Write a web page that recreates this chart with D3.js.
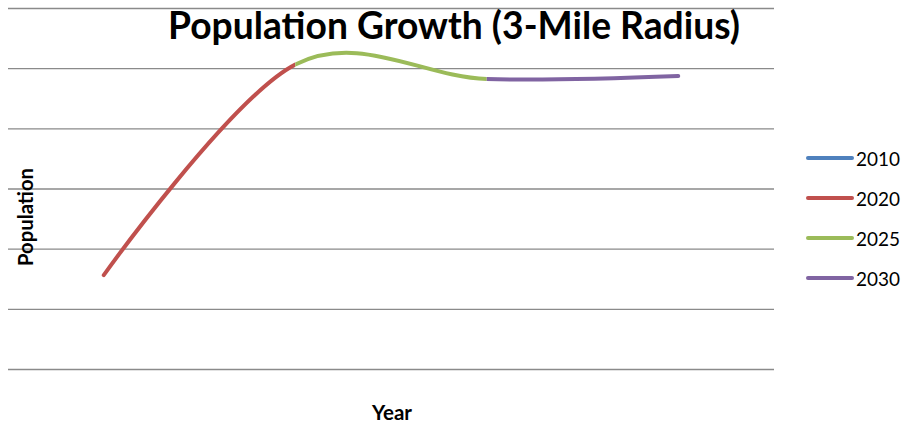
<!DOCTYPE html>
<html>
<head>
<meta charset="utf-8">
<script src="https://cdn.jsdelivr.net/npm/d3@7"></script>
<style>
  html, body { margin: 0; padding: 0; background: #fff; }
  svg { display: block; font-family: Lato, "Open Sans", "Liberation Sans", sans-serif; }
</style>
</head>
<body>
<svg id="chart" width="901" height="426"></svg>
<script>
// Population within a 3-mile radius, by year
const years = ["2010", "2020", "2025", "2030"];
const population = [15.6, 50.6, 48.2, 48.7];
const seriesNames = ["2010", "2020", "2025", "2030"];
const seriesColors = ["#4F81BD", "#C0504D", "#9BBB59", "#8064A2"];
const yTicks = [0, 10, 20, 30, 40, 50, 60];

const svg = d3.select("#chart");
const plot = { left: 8, right: 774, top: 8, bottom: 369 };

const x = d3.scaleBand().domain(years).range([plot.left, plot.right]);
const cx = d => x(d) + x.bandwidth() / 2;
const y = d3.scaleLinear().domain([0, 60]).range([plot.bottom, plot.top]);

// scale a text element's font so it spans the given width
function fitWidth(sel, base, width) {
  const w = sel.node().getComputedTextLength();
  sel.attr("font-size", base * width / w);
}

// horizontal gridlines
svg.append("g")
  .attr("transform", `translate(${plot.left},0)`)
  .call(d3.axisLeft(y).tickValues(yTicks).tickSize(-(plot.right - plot.left)).tickFormat(""))
  .call(g => g.select(".domain").remove())
  .call(g => g.selectAll(".tick line").attr("stroke", "#8a8a8a").attr("stroke-width", 1.3));

// smoothed line through every year; each span takes the colour of the series ending there
const pts = years.map((yr, i) => ({ yr, v: population[i] }));
const line = d3.line().x(d => cx(d.yr)).y(d => y(d.v)).curve(d3.curveCardinal.tension(0));
const defs = svg.append("defs");

for (let i = 1; i < years.length; i++) {
  const x0 = i === 1 ? 0 : cx(years[i - 1]);
  const x1 = i === years.length - 1 ? 901 : cx(years[i]);
  defs.append("clipPath").attr("id", "seg" + i)
    .append("rect").attr("x", x0).attr("y", 0).attr("width", x1 - x0).attr("height", 426);
  svg.append("path")
    .datum(pts)
    .attr("clip-path", `url(#seg${i})`)
    .attr("d", line)
    .attr("fill", "none")
    .attr("stroke", seriesColors[i])
    .attr("stroke-width", 4)
    .attr("stroke-linecap", "round")
    .attr("stroke-linejoin", "round");
}

// title
const title = svg.append("text")
  .attr("x", 454).attr("y", 39)
  .attr("text-anchor", "middle")
  .attr("font-weight", "bold")
  .attr("font-size", 32)
  .attr("fill", "#000")
  .text("Population Growth (3-Mile Radius)");
fitWidth(title, 32, 572);

// axis titles
const yTitle = svg.append("text")
  .attr("transform", "translate(33,217) rotate(-90)")
  .attr("text-anchor", "middle")
  .attr("font-weight", "bold")
  .attr("font-size", 16)
  .text("Population");
fitWidth(yTitle, 16, 98);

const xTitle = svg.append("text")
  .attr("x", 392).attr("y", 420)
  .attr("text-anchor", "middle")
  .attr("font-weight", "bold")
  .attr("font-size", 16)
  .text("Year");
fitWidth(xTitle, 16, 40);

// legend
const legend = svg.append("g");
const legendY = d3.scalePoint().domain(seriesNames).range([158, 278]);
seriesNames.forEach((name, i) => {
  const ly = legendY(name);
  legend.append("line")
    .attr("x1", 808).attr("x2", 852).attr("y1", ly).attr("y2", ly)
    .attr("stroke", seriesColors[i]).attr("stroke-width", 4).attr("stroke-linecap", "round");
  const t = legend.append("text")
    .attr("x", 856).attr("y", ly + 7.5)
    .attr("font-size", 18)
    .text(name);
  fitWidth(t, 18, 44);
});
</script>
</body>
</html>
